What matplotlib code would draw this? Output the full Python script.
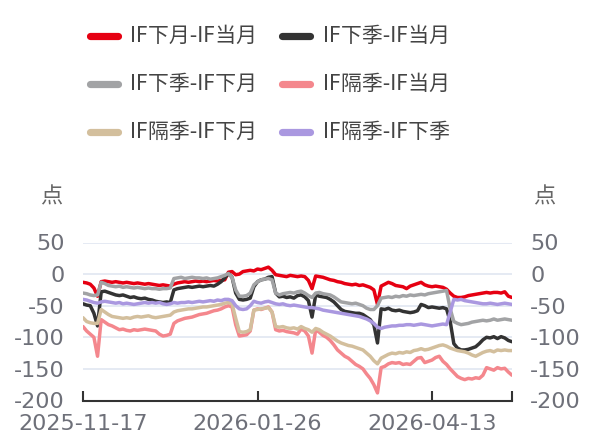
import matplotlib
matplotlib.use("Agg")
import matplotlib.pyplot as plt
from matplotlib.lines import Line2D
import numpy as np

plt.rcParams['font.family'] = ['DejaVu Sans', 'Noto Sans CJK SC']
plt.rcParams['axes.unicode_minus'] = False

series_names = ['IF下月-IF当月', 'IF下季-IF当月', 'IF下季-IF下月',
                'IF隔季-IF当月', 'IF隔季-IF下月', 'IF隔季-IF下季']
series_colors = ['#E60012', '#333333', '#A2A3A5', '#F4878D', '#D3BF9D', '#AA98E0']

x_tick_idx = [0, 48, 96]
x_tick_labels = ['2025-11-17', '2026-01-26', '2026-04-13']
y_ticks = [50, 0, -50, -100, -150, -200]

s_m1_m0 = [-13, -14, -16, -22, -35, -12, -11, -12, -13, -12, -13, -14, -13, -14, -15, -14, -15, -16, -15, -16,
           -17, -18, -17, -18, -19, -16, -14, -13, -12, -13, -12, -11, -12, -11, -12, -11, -10, -11, -10, -9,
           3, 4, -1, 0, 4, 5, 6, 5, 8, 7, 9, 11, 6, -1, -2, -3, -4, -2, -3, -4,
           -3, -4, -10, -23, -3, -4, -5, -7, -9, -10, -12, -13, -15, -16, -17, -16, -18, -17, -19, -21,
           -25, -48, -19, -16, -13, -15, -18, -19, -20, -23, -19, -17, -15, -13, -17, -19, -20, -19, -20, -21,
           -24, -30, -35, -37, -37, -36, -34, -33, -32, -31, -30, -29, -30, -29, -29, -30, -28, -35, -37]

s_q1_m0 = [-47, -49, -50, -62, -82, -28, -27, -29, -31, -33, -34, -33, -35, -37, -36, -38, -39, -38, -40, -41,
           -43, -44, -45, -44, -45, -25, -23, -22, -21, -20, -21, -20, -19, -20, -19, -18, -19, -16, -12, -6,
           1, -5, -30, -40, -41, -40, -38, -20, -12, -9, -8, -5, -4, -30, -36, -35, -37, -36, -38, -34,
           -33, -36, -42, -68, -33, -35, -36, -37, -40, -44, -50, -56, -59, -60, -61, -62, -62, -64, -68, -72,
           -80, -109, -55, -56, -54, -57, -58, -57, -59, -60, -61, -60, -58, -48, -50, -53, -52, -53, -54, -53,
           -55, -75, -110, -117, -120, -120, -119, -117, -115, -110, -104, -100, -101, -99, -102, -99, -101, -105, -107]

s_q1_m1 = [-30, -31, -33, -34, -33, -13, -15, -18, -19, -20, -19, -21, -20, -21, -22, -21, -22, -23, -22, -23,
           -23, -24, -23, -23, -22, -7, -6, -5, -7, -6, -5, -6, -6, -7, -6, -8, -7, -6, -4, -2,
           1, -5, -25, -35, -35, -34, -30, -17, -12, -9, -8, -7, -9, -30, -33, -31, -30, -29, -30, -28,
           -27, -30, -34, -37, -30, -29, -31, -32, -33, -36, -40, -44, -45, -46, -47, -46, -48, -50, -54, -56,
           -56, -50, -38, -37, -36, -37, -35, -36, -34, -35, -33, -34, -33, -32, -33, -31, -30, -29, -28, -27,
           -26, -55, -75, -78, -80, -79, -78, -76, -75, -74, -73, -74, -73, -71, -73, -72, -71, -72, -73]

s_q2_m0 = [-83, -90, -95, -100, -130, -72, -76, -80, -82, -85, -88, -87, -89, -90, -88, -89, -88, -87, -88, -89,
           -90, -95, -98, -97, -95, -78, -74, -72, -70, -69, -68, -66, -64, -63, -62, -60, -58, -57, -55, -52,
           -50, -52, -80, -98, -97, -96, -90, -57, -55, -56, -54, -52, -60, -88, -90, -89, -91, -92, -93, -95,
           -87, -90, -98, -125, -88, -92, -97, -100, -105, -112, -120, -125, -130, -133, -138, -143, -146, -150, -158, -165,
           -175, -188, -148, -146, -142, -140, -141, -140, -143, -142, -143, -138, -133, -132, -140, -138, -136, -132, -130, -138,
           -143, -150, -156, -162, -165, -167, -165, -166, -164, -165, -160, -148, -150, -152, -148, -150, -149, -155, -160]

s_q2_m1 = [-69, -75, -77, -78, -78, -56, -60, -64, -67, -68, -69, -70, -69, -70, -68, -67, -68, -67, -66, -68,
           -69, -68, -67, -66, -65, -60, -58, -57, -56, -55, -55, -54, -53, -52, -52, -51, -50, -49, -48, -46,
           -45, -47, -70, -91, -92, -91, -88, -57, -56, -55, -54, -53, -60, -83, -84, -83, -85, -86, -85, -87,
           -83, -86, -88, -92, -86, -88, -92, -95, -98, -102, -106, -109, -111, -113, -114, -116, -118, -120, -125, -130,
           -137, -142, -133, -130, -127, -125, -126, -124, -125, -123, -124, -121, -120, -118, -120, -119, -117, -115, -113, -112,
           -114, -117, -119, -121, -122, -123, -125, -128, -130, -127, -124, -122, -121, -123, -120, -121, -120, -121, -121]

s_q2_q1 = [-40, -41, -43, -45, -46, -44, -43, -44, -45, -46, -45, -47, -46, -47, -48, -47, -46, -45, -46, -45,
           -46, -45, -47, -48, -47, -45, -46, -45, -45, -44, -45, -44, -43, -44, -43, -42, -43, -41, -42, -40,
           -40, -42, -50, -55, -56, -55, -50, -43, -45, -46, -44, -43, -45, -47, -48, -47, -49, -50, -49, -50,
           -51, -52, -53, -53, -54, -55, -57, -58, -59, -60, -61, -62, -63, -64, -65, -66, -67, -69, -71, -74,
           -78, -84, -86, -84, -83, -82, -82, -81, -81, -80, -80, -81, -80, -79, -80, -81, -82, -81, -80, -79,
           -80, -60, -40, -41, -40, -42, -43, -44, -45, -46, -47, -47, -46, -47, -48, -47, -46, -47, -48]

all_series = [s_m1_m0, s_q1_m0, s_q1_m1, s_q2_m0, s_q2_m1, s_q2_q1]

W, H = 591, 441
fig = plt.figure(figsize=(W / 100, H / 100), dpi=100)
ax = fig.add_axes([83 / W, 1 - 400.5 / H, (512 - 83) / W, (400.5 - 242.5) / H])

x = np.arange(len(s_m1_m0))
for vals, col in zip(all_series, series_colors):
    ax.plot(x, vals, color=col, lw=2.5, solid_joinstyle='round', solid_capstyle='round')

ax.set_xlim(0, len(x) - 1)
ax.set_ylim(-200, 50)
ax.set_yticks(y_ticks)
ax.set_yticklabels([str(v) for v in y_ticks])
for v in y_ticks[:-1]:
    ax.axhline(v, color='#E0E6F1', lw=1.2, zorder=0)

ax.set_xticks(x_tick_idx + [len(x) - 1])
ax.set_xticklabels(x_tick_labels + [''])

for s in ['top', 'left', 'right']:
    ax.spines[s].set_visible(False)
ax.spines['bottom'].set_color('#333333')
ax.spines['bottom'].set_linewidth(1.5)

ax.tick_params(axis='y', which='both', length=0, labelsize=16, labelcolor='#6E7079',
               pad=13, labelleft=True, labelright=True)
ax.tick_params(axis='x', direction='in', length=7, width=1.5, color='#333333',
               labelsize=16, labelcolor='#6E7079', pad=10)

fig.text(51 / W, 1 - 197 / H, '点', fontsize=16, color='#666666', ha='center', va='center')
fig.text(544 / W, 1 - 197 / H, '点', fontsize=16, color='#666666', ha='center', va='center')

# legend, laid out manually
leg_rows = [36, 84, 132]
leg_cols = [(86, 121, 130), (278, 313, 323)]
for k, (name, col) in enumerate(zip(series_names, series_colors)):
    r, c = divmod(k, 2)
    y = 1 - leg_rows[r] / H
    x0, x1, xt = leg_cols[c]
    fig.add_artist(Line2D([(x0 + 3.5) / W, (x1 - 3.5) / W], [y, y], transform=fig.transFigure,
                          color=col, lw=5.2, solid_capstyle='round'))
    fig.text(xt / W, y, name, fontsize=15, color='#444444', ha='left', va='center')

fig.savefig('out.png', dpi=100)
